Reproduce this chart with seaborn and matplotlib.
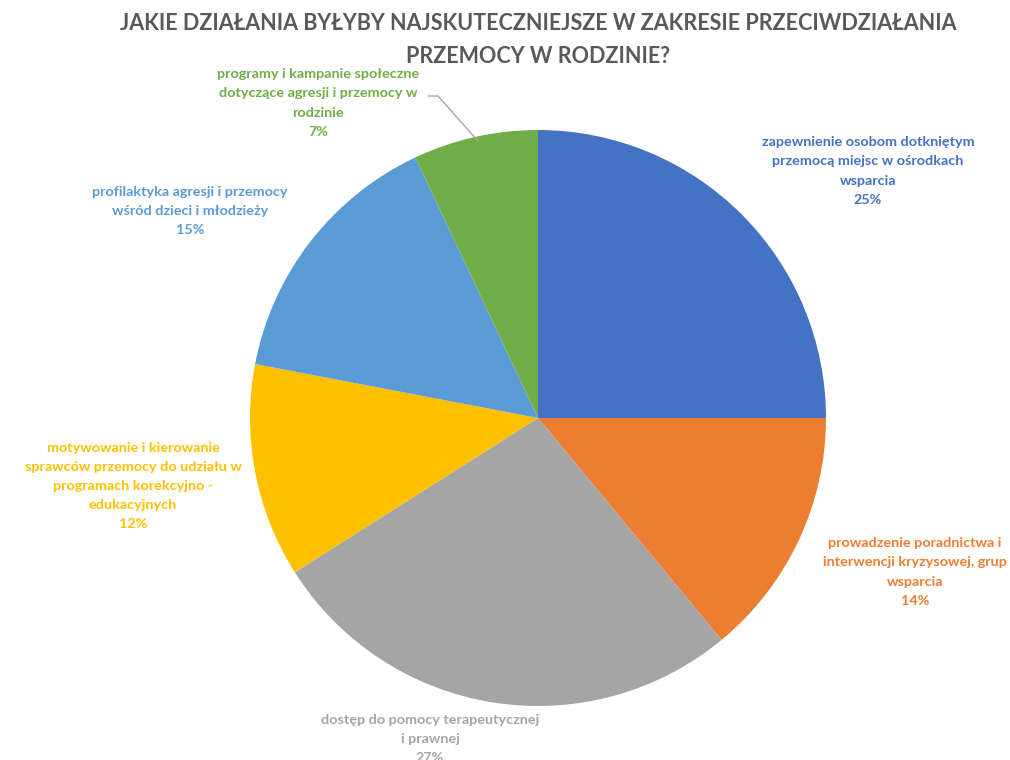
import matplotlib
matplotlib.use("Agg")
import matplotlib.pyplot as plt
import seaborn as sns

sns.set_theme(style="white")
plt.rcParams["font.family"] = ["Lato", "DejaVu Sans"]

title = "JAKIE DZIAŁANIA BYŁYBY NAJSKUTECZNIEJSZE W ZAKRESIE PRZECIWDZIAŁANIA\nPRZEMOCY W RODZINIE?"

categories = [
    "zapewnienie osobom dotkniętym\nprzemocą miejsc w ośrodkach\nwsparcia",
    "prowadzenie poradnictwa i\ninterwencji kryzysowej, grup\nwsparcia",
    "dostęp do pomocy terapeutycznej\ni prawnej",
    "motywowanie i kierowanie\nsprawców przemocy do udziału w\nprogramach korekcyjno -\nedukacyjnych",
    "profilaktyka agresji i przemocy\nwśród dzieci i młodzieży",
    "programy i kampanie społeczne\ndotyczące agresji i przemocy w\nrodzinie",
]
shares = [25, 14, 27, 12, 15, 7]
colors = ["#4472C4", "#ED7D31", "#A5A5A5", "#FFC000", "#5B9BD5", "#70AD47"]

# label anchor positions (pixel layout of the 1010x760 canvas)
label_px = [(868, 171), (915, 572), (430, 739), (133, 486), (190, 211), (318, 103)]

W, H = 1010, 760
cx, cy, r = 538, 418, 288

fig = plt.figure(figsize=(W / 100, H / 100), dpi=100)
ax = fig.add_axes([(cx - r) / W, (H - cy - r) / H, 2 * r / W, 2 * r / H])
ax.pie(shares, colors=colors, startangle=90, counterclock=False,
       wedgeprops=dict(linewidth=0))
ax.set_xlim(-1, 1)
ax.set_ylim(-1, 1)
ax.set_aspect("equal")
ax.axis("off")

def to_data(px, py):
    return (px - cx) / r, (cy - py) / r

for cat, val, col, (px, py) in zip(categories, shares, colors, label_px):
    x, y = to_data(px, py)
    ax.text(x, y, f"{cat}\n{val}%", ha="center", va="center", color=col,
            fontsize=10.4, fontweight="bold", linespacing=1.72, clip_on=False)

# leader line for the small green slice
pts = [to_data(428, 96), to_data(438, 96), to_data(478, 141)]
ax.plot([p[0] for p in pts], [p[1] for p in pts], color="#A6A6A6",
        linewidth=1, clip_on=False)

fig.text(538 / W, 1 - 40 / H, title, ha="center", va="center", color="#595959",
         fontsize=15.5, fontweight="bold", linespacing=1.68)

fig.savefig("out.png", dpi=100, facecolor="white")
